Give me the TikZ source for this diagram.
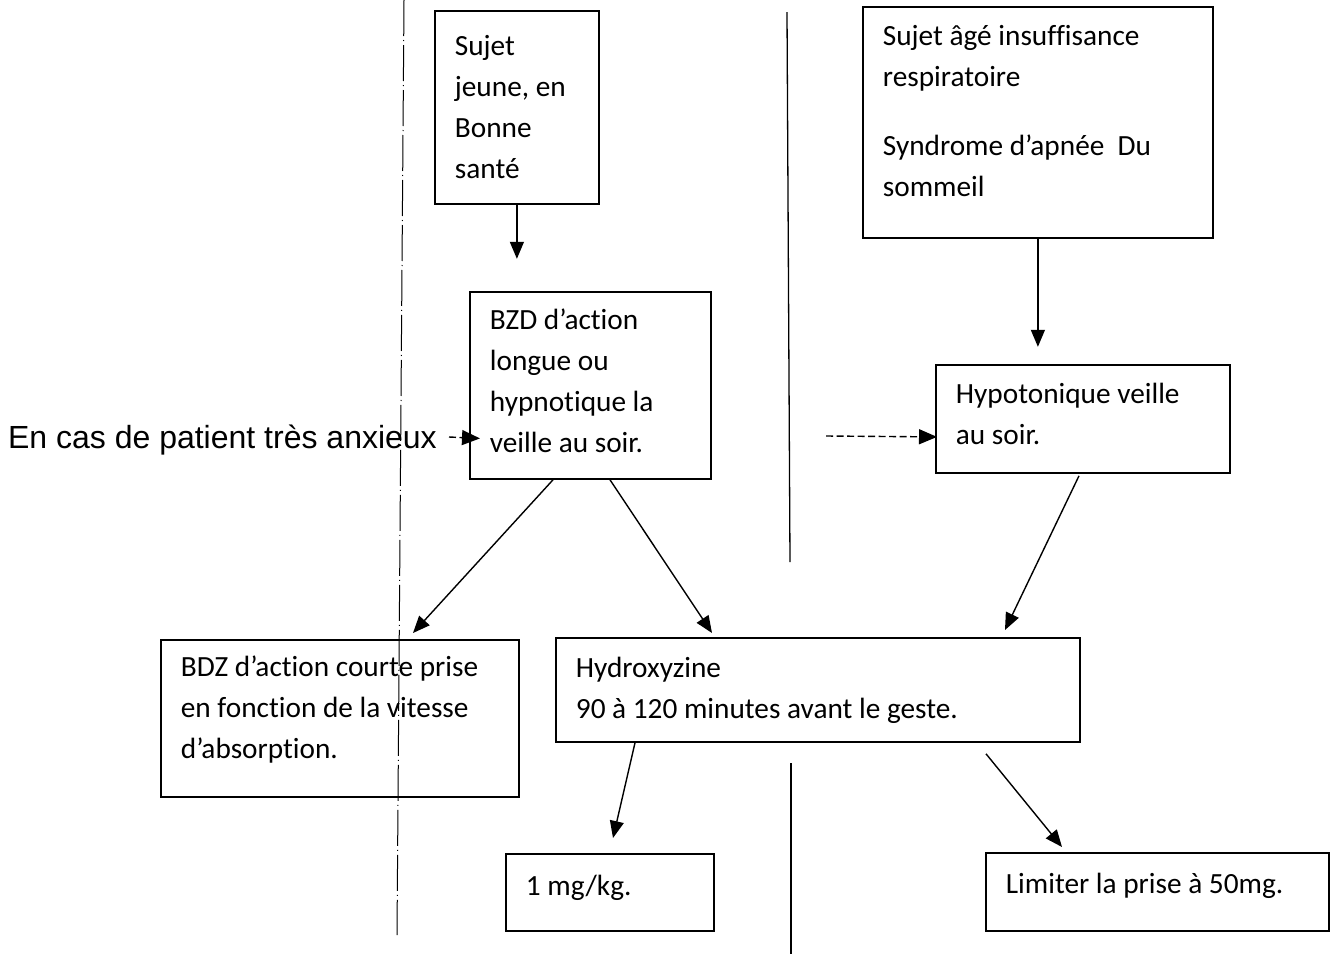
\documentclass[tikz,border=0pt]{standalone}
\usepackage{fontspec}
\setmainfont{Carlito}[Ligatures=NoCommon]
\newfontfamily\arialfont{Liberation Sans}
\usetikzlibrary{arrows.meta,calc}

\begin{document}
\begin{tikzpicture}[x=1pt,y=-1pt,
  box/.style={draw,line width=1.8pt,rectangle,anchor=north west,align=flush left,
    inner xsep=20pt,inner ysep=0pt,font=\fontsize{29.3}{41}\selectfont},
  arr/.style={line width=1.4pt,-{Triangle[length=17pt,width=14pt]}},
  darr/.style={line width=1.4pt,dash pattern=on 7pt off 3.5pt,-{Triangle[length=18pt,width=15pt]}},
  sep/.style={line width=1.3pt}]
\useasboundingbox (0,0) rectangle (1334,954);

% separators
\draw[sep,line width=1pt,dash pattern=on 36pt off 4pt on 1pt off 4pt] (404,0) -- (397,935);
\draw[sep] (787,12) -- (790,562);
\draw[sep] (791,763) -- (791,954);

% boxes (a trailing short empty line lifts the text a little inside its frame)
\node[box,minimum width=164pt,minimum height=193pt,text width=124pt] (sj) at (434,10)
  {Sujet\\jeune, en\\Bonne\\santé};
\node[box,minimum width=350pt,minimum height=231pt,text width=310pt] (sa) at (862,6)
  {Sujet âgé insuffisance\\respiratoire\\[28pt]Syndrome d’apnée\ \ Du\\sommeil\\[-19pt]\mbox{}};
\node[box,minimum width=241pt,minimum height=187pt,text width=201pt] (bzd) at (469,291)
  {BZD d’action\\longue ou\\hypnotique la\\veille au soir.\\[-31pt]\mbox{}};
\node[box,minimum width=294pt,minimum height=108pt,text width=254pt] (hyp) at (935,364)
  {Hypotonique veille\\au soir.\\[-31pt]\mbox{}};
\node[box,minimum width=358pt,minimum height=157pt,text width=318pt] (bdz) at (160,639)
  {BDZ d’action courte prise\\en fonction de la vitesse\\d’absorption.\\[-19pt]\mbox{}};
\node[box,minimum width=524pt,minimum height=104pt,text width=484pt] (hx) at (555,637)
  {Hydroxyzine\\90 à 120 minutes avant le geste.};
\node[box,minimum width=208pt,minimum height=77pt,text width=168pt] (mg) at (505,853)
  {1 mg/kg.\\[-27pt]\mbox{}};
\node[box,minimum width=343pt,minimum height=78pt,text width=303pt] (lim) at (985,852)
  {Limiter la prise à 50mg.\\[-23pt]\mbox{}};

\node[anchor=base east,inner sep=0pt,font=\arialfont\fontsize{32}{38}\selectfont] (anx) at (437,448)
  {En cas de patient très anxieux};

% arrow end points
\coordinate (t1) at ($(sj.south)+(0,54)$);
\coordinate (t2) at ($(sa.south)+(0,108)$);
\coordinate (d1) at (449,437);
\coordinate (d2) at (826,436);

% connectors
\draw[arr] (sj.south) -- (t1);
\draw[arr] (sa.south) -- (t2);
\draw[darr] (d1) -- ($(bzd.west)+(11,53)$);
\draw[darr] (d2) -- ($(hyp.west)+(2,18)$);
\draw[arr] ($(bzd.south west)+(84,0)$) -- ($(bdz.north west)+(253,-6)$);
\draw[arr] ($(bzd.south west)+(141,0)$) -- ($(hx.north west)+(157,-4)$);
\draw[arr] ($(hyp.south west)+(144,2)$) -- ($(hx.north west)+(450,-7)$);
\draw[arr] ($(hx.south west)+(80,0)$) -- ($(mg.north west)+(108,-15)$);
\draw[arr] ($(hx.south west)+(431,11)$) -- ($(lim.north west)+(77,-5)$);
\end{tikzpicture}
\end{document}
